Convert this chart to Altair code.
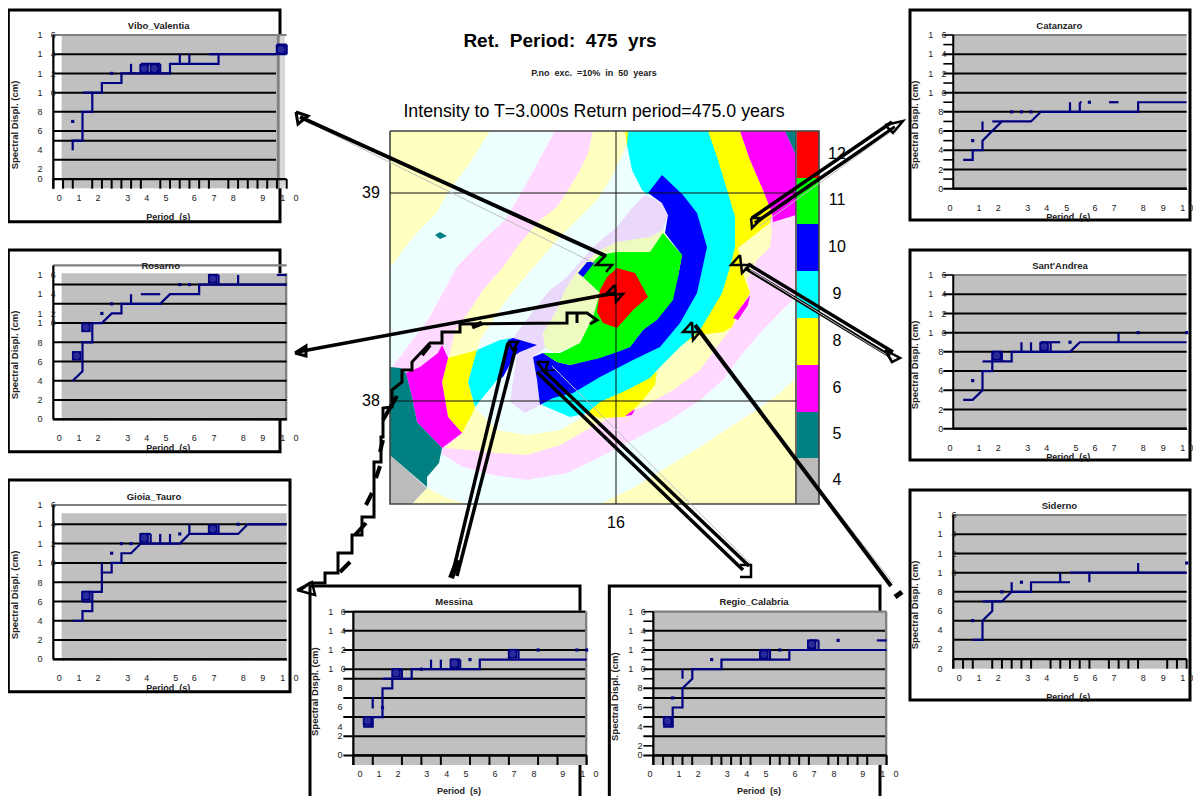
import altair as alt

FONT = "Liberation Sans"
NAVY = "#000080"

# ---------- map of intensity classes (polygons, back to front) ----------
PALE_Y, PALE_C, PINK, LAV, PALE_G = "#FFFFC0", "#EEFFFF", "#FFD9FF", "#EAD9FA", "#EEFBC0"
MAP_POLYS = [
 (PALE_Y, [(390,131),(796,131),(796,504),(390,504)]),
 (PALE_C, [(490,131),(796,131),(796,378),(780,393),(757,410),(733,425),(700,447),(667,467),(633,488),(600,504),(467,504),(447,498),(427,488),(400,470),(390,400),(390,266),(392,265),(413,237),(437,212),(448,192),(470,163)]),
 (PINK, [(555,131),(796,131),(796,297),(782,310),(763,330),(743,353),(723,380),(700,400),(667,422),(633,440),(600,457),(567,473),(527,480),(493,475),(463,467),(440,453),(428,440),(390,420),(390,367),(392,367),(403,353),(420,330),(428,320),(435,307),(457,267),(480,243),(505,220),(523,190),(543,153)]),
 (PALE_Y, [(593,131),(588,153),(580,170),(570,187),(557,207),(540,220),(520,243),(503,267),(483,290),(470,310),(455,330),(450,353),(448,358),(462,433),(445,448),(470,450),(497,453),(527,455),(560,445),(590,428),(610,418),(643,407),(673,390),(700,370),(717,347),(732,327),(745,307),(750,293),(747,280),(757,260),(770,247),(772,230),(770,223),(757,233),(738,248),(708,150),(708,131)]),
 (PALE_C, [(627,145),(610,180),(597,200),(577,220),(557,240),(540,260),(520,283),(505,302),(493,320),(480,340),(470,380),(475,408),(497,430),(527,435),(560,430),(583,417),(610,400),(700,250),(690,150)]),
 (LAV, [(534,310),(550,290),(567,277),(593,247),(617,227),(633,207),(645,195),(662,203),(668,215),(663,230),(650,237),(617,243),(597,255),(580,267),(565,290),(557,310),(543,333),(545,348),(533,357),(537,380),(540,405),(525,413),(510,402),(517,353),(513,338)]),
 (PALE_G, [(600,250),(617,242),(650,237),(663,230),(668,233),(650,260),(620,300),(590,340),(555,353),(545,348),(543,333),(557,310),(565,290),(580,267)]),
 ("#FFFF00", [(625,131),(631,131),(627,146)]),
 ("#FFFF00", [(708,131),(740,131),(750,160),(763,190),(772,213),(770,223),(757,233),(738,248),(745,280),(750,293),(737,313),(732,327),(723,332),(700,335),(680,345),(650,340),(680,250)]),
 ("#FF00FF", [(750,295),(748,305),(738,320),(733,318)]),
 ("#FFFF00", [(657,372),(655,385),(643,400),(633,410),(625,417),(600,418),(587,413),(600,400),(640,380)]),
 ("#FF00FF", [(625,416),(635,409),(632,415)]),
 ("#FFFF00", [(448,358),(478,350),(468,382),(475,408),(462,433),(448,417),(442,382)]),
 ("#00FFFF", [(628,131),(708,131),(717,157),(728,193),(735,217),(735,247),(730,267),(722,293),(712,310),(700,330),(680,347),(660,367),(650,378),(627,390),(600,402),(587,413),(570,417),(542,405),(560,380),(650,330),(690,250),(662,175),(648,195),(642,190),(632,170),(627,145)]),
 ("#00FFFF", [(468,382),(477,350),(500,340),(513,338),(512,343),(497,380),(475,407)]),
 ("#0000FF", [(662,175),(683,195),(697,213),(707,247),(697,293),(680,323),(660,347),(633,360),(600,377),(573,393),(553,398),(540,405),(537,380),(533,357),(543,353),(557,362),(570,365),(597,358),(617,352),(630,347),(643,330),(663,310),(678,277),(682,255),(665,233),(668,215),(662,203),(648,193)]),
 ("#00FF00", [(583,277),(593,262),(600,255),(617,252),(650,252),(663,233),(682,255),(678,277),(673,300),(657,320),(643,330),(630,347),(617,352),(600,358),(570,365),(557,362),(543,353),(560,353),(580,343),(593,317),(600,293)]),
 ("#FF0000", [(617,268),(635,273),(648,297),(633,310),(617,328),(603,323),(597,312),(600,290),(607,277)]),
 ("#0000FF", [(508,340),(513,338),(537,345),(520,352),(515,355),(503,377),(497,380)]),
 ("#0000FF", [(578,273),(587,262),(595,262),(583,277)]),
 ("#FF00FF", [(740,131),(785,131),(796,155),(796,215),(773,222),(772,213),(763,190),(750,160)]),
 ("#008080", [(785,131),(796,131),(796,155)]),
 ("#FF00FF", [(406,373),(420,367),(438,353),(442,345),(448,358),(442,382),(448,417),(462,433),(442,448),(417,422),(412,397)]),
 ("#008080", [(390,367),(400,368),(406,373),(412,397),(417,422),(442,448),(439,463),(427,477),(427,487),(392,457),(390,456)]),
 ("#BBBBBB", [(390,456),(392,457),(427,488),(412,504),(390,504)]),
 ("#008080", [(435,235),(440,232),(447,236),(440,239)]),
]
LEGEND_CLASSES = ["12", "11", "10", "9", "8", "6", "5", "4"]
LEGEND_COLORS = ["#FF0000", "#00FF00", "#0000FF", "#00FFFF", "#FFFF00", "#FF00FF", "#008080", "#BBBBBB"]
LEGEND_EDGES = [131, 178, 224, 271, 318, 365, 412, 458, 504]
LAT_LINES = [("39", 193), ("38", 401)]
LON_LINES = [("16", 616)]

# ---------- spectra: period (s), displacement (cm) ----------
vibo_t = [.83,.83,1.25,1.25,1.67,1.67,2.08,2.08,2.92,2.92,5,5,7.08,7.08,10]
vibo_v = [4,5,5,8,8,10,10,11,11,12,12,13,13,14,14]
vibo_seg = [(1.25,10,1.67,10),(3.33,12,3.33,13),(3.75,13,4.58,13),(4.58,12,4.58,13),(5.42,13,5.42,14),(5.83,13,5.83,14),(6.67,14,7.08,14),(9.58,14,9.58,15),(9.58,15,10,15),(10,14,10,15)]
vibo_dot = [(.83,7),(2.5,12)]
vibo_mark = [(3.89,12.5),(4.33,12.5),(9.76,14.5)]

rosa_t = [.83,1.25,1.25,1.67,1.67,2.08,2.5,2.92,2.92,4.58,5,6.25,6.25,10]
rosa_v = [4,5,8,8,10,10,11,11,12,12,13,13,14,14]
rosa_seg = [(3.33,12,3.33,13),(3.75,13,4.58,13),(7.92,14,7.92,15),(9.58,15,10,15),(6.67,15,7.08,15),(7.08,14,7.08,15)]
rosa_dot = [(2.08,11),(2.5,12),(5.42,14),(5.83,14)]
rosa_mark = [(1.0,6.6),(1.4,9.55),(6.83,14.6)]

gioia_t = [.83,1.25,1.25,1.67,1.67,2.08,2.08,2.5,2.5,2.92,2.92,3.33,3.75,5.42,5.83,7.92,8.33,10]
gioia_v = [4,4,5,5,7,7,9,9,10,10,11,11,12,12,13,13,14,14]
gioia_seg = [(2.08,9,2.08,10),(1.25,7,1.67,7),(1.25,6,1.67,6),(1.25,6,1.25,7),(3.75,12,3.75,13),(4.17,12,4.17,13),(4.58,12,4.58,13),(5,12,5,13),(5.83,13,5.83,14),(6.67,13,6.67,14),(7.08,13,7.08,14),(3.75,13,4.17,13)]
gioia_dot = [(2.5,11),(2.92,12),(3.33,12),(5.42,13),(7.92,14)]
gioia_mark = [(1.4,6.6),(3.89,12.6),(6.83,13.5)]

mess_t = [.42,.83,.83,1.25,1.25,1.67,1.67,2.5,2.5,5.42,5.42,10]
mess_v = [4,4,5,5,8,8,9,9,10,10,11,11]
mess_seg = [(1.25,9,1.67,9),(.83,5.9,.83,7.1),(3.33,10,3.33,11),(3.75,10,3.75,11),(4.58,10,4.58,11),(4.17,11,4.58,11),(2.08,9,2.08,10),(2.08,10,1.67,10),(6.67,12,7.08,12),(7.08,11,7.08,12),(6.67,11,6.67,12)]
mess_dot = [(1.25,6),(2.92,10),(5,11),(7.92,12),(9.58,12),(10,12)]
mess_mark = [(.61,4.6),(1.83,9.6),(4.33,10.6),(6.83,11.6)]

regio_t = [.42,.83,.83,1.25,1.25,1.67,1.67,2.92,2.92,5.83,5.83,10]
regio_v = [4,4,6,6,8,9,10,10,11,11,12,12]
regio_seg = [(1.25,9,1.25,10),(4.58,11,4.58,12),(5,11,5,12),(4.58,12,5,12),(7.08,12,7.08,13),(6.67,13,7.08,13),(6.67,12,6.67,13),(9.58,13,10,13)]
regio_dot = [(.83,7),(2.5,11),(5.42,12),(7.92,13)]
regio_mark = [(.61,4.6),(4.74,11.55),(6.79,12.6)]

cat_t = [.42,.83,.83,1.25,1.25,2.08,3.33,3.75,7.92,7.92,10]
cat_v = [3,3,4,4,5,7,7,8,8,9,9]
cat_seg = [(1.25,6,1.25,7),(1.67,7,2.08,7),(5,8,5,9),(5.42,8,5.42,9),(5.42,9,5.5,9),(6.67,9,7.08,9)]
cat_dot = [(.83,5),(2.5,8),(2.92,8),(3.33,8),(5.83,9)]
cat_mark = []

sant_t = [.42,.83,1.25,1.25,1.67,1.67,2.5,2.5,5,5.42,10]
sant_v = [3,3,4,6,6,7,7,8,8,9,9]
sant_seg = [(1.25,7,1.67,7),(1.67,7,1.67,8),(1.67,8,2.08,8),(2.08,7,2.08,8),(2.92,8,2.92,9),(3.33,8,3.33,9),(3.75,8,3.75,9),(4.17,8,4.17,9),(3.75,9,4.58,9),(7.08,9,7.08,10)]
sant_dot = [(.83,5),(5,9),(7.92,10),(10,10)]
sant_mark = [(1.86,7.6),(3.89,8.55)]

sid_t = [.83,1.25,1.25,1.67,1.67,2.08,2.5,3.33,3.33,5]
sid_v = [3,3,5,6,7,7,8,8,9,9]
sid_seg = [(1.25,7,1.67,7),(2.5,8,2.5,9),(4.58,9,4.58,10),(5,10,10,10),(5.83,9,5.83,10),(7.92,10,7.92,11)]
sid_dot = [(.83,5),(2.08,8),(2.92,9),(10,11)]
sid_mark = []

X_TEXT = ["0","1","2","3","4","5","6","7","8","9","1","0"]
Y_TEXT = [16,14,12,10,8,6,4,2,0]
TICK_STEP = 10 / 24
ALL_K = list(range(25))

# layout of one panel, in 1/3-pixel units from the panel's own origin
PANELS = [
 dict(name="Vibo_Valentia", ox=0, oy=0, frame=(25,30,840,665), gray=(185,103,830,565), strip=(830,838), light=(838,855), y0=566, y16=105,
      grid=[14,12,10,8,6,5,3,1], gl=160, gr=828, base=1, ticks=[0,1,2,4,5,6,7,8,9,11,12,13,14,15,16,18,19,20,21,22,23,24],
      yt=(120,160,120), yz=[105,163,221,278,336,394,451,508,538], xz=[178,237,294,383,440,498,583,642,700,788,848,888], xy=595, py=650, ty=78, tx=476, sy=375, px=505,
      t=vibo_t, v=vibo_v, seg=vibo_seg, dot=vibo_dot, mark=vibo_mark, extra=[]),
 dict(name="Rosarno", ox=0, oy=240, frame=(25,30,840,635), gray=(185,100,855,538), strip=(855,862), light=None, y0=538, y16=76,
      grid=[14,12,10,8,6,4,2,0], gl=160, gr=860, base=0, ticks=[], yt=(120,160,120), yz=[105,163,221,250,308,365,423,481,538],
      xz=[178,237,294,383,440,498,583,642,730,788,848,888], xy=595, py=625, ty=78, tx=482, sy=345, px=505,
      t=rosa_t, v=rosa_v, seg=rosa_seg, dot=rosa_dot, mark=rosa_mark, extra=[]),
 dict(name="Gioia_Tauro", ox=0, oy=470, frame=(25,30,870,665), gray=(185,130,860,568), strip=None, light=None, y0=568, y16=105,
      grid=[14,12,10,8,6,4,2,0], gl=160, gr=860, base=0, ticks=[], yt=(120,160,120), yz=[105,163,223,280,338,396,453,511,568],
      xz=[178,237,294,383,440,527,583,642,730,788,848,888], xy=625, py=653, ty=80, tx=462, sy=375, px=505,
      t=gioia_t, v=gioia_v, seg=gioia_seg, dot=gioia_dot, mark=gioia_mark, extra=[]),
 dict(name="Messina", ox=300, oy=580, frame=(30,18,840,680), gray=(160,95,855,555), strip=(855,862), light=None, y0=555, y16=95,
      grid=[16,14,12,10,9,7,5,3,1], gl=130, gr=855, base=1, ticks=[0,2,5,7,9,12,14,16,19,21,24], yt=(92,130,120), yz=[95,152,210,267,325,382,440,468,526],
      xz=[180,237,294,380,440,498,585,642,702,788,848,888], xy=583, py=632, ty=65, tx=462, sy=335, px=477,
      t=mess_t, v=mess_v, seg=mess_seg, dot=mess_dot, mark=mess_mark, extra=[]),
 dict(name="Regio_Calabria", ox=600, oy=580, frame=(28,18,840,680), gray=(160,95,855,555), strip=(855,862), light=None, y0=555, y16=95,
      grid=[14,12,10,8,7,5,3,1], gl=130, gr=855, base=1, ticks=[0,1,2,3,4,6,7,8,9,10,12,13,14,15,16,18,19,20,21,22,24], yt=(92,130,120), yz=[95,152,210,267,325,382,440,497,526],
      xz=[150,237,295,382,440,498,585,642,702,788,848,888], xy=583, py=632, ty=65, tx=462, sy=350, px=477,
      t=regio_t, v=regio_v, seg=regio_seg, dot=regio_dot, mark=regio_mark, extra=[16,15,13,11,9,6,4,2]),
 dict(name="Catanzaro", ox=900, oy=0, frame=(30,30,870,660), gray=(165,105,860,566), strip=None, light=None, y0=566, y16=105,
      grid=[14,12,10,8,6,4,2,0], gl=130, gr=860, base=0, ticks=[], yt=(92,132,122), yz=[105,163,221,278,336,394,451,509,566],
      xz=[150,237,295,383,440,500,585,642,730,790,848,873], xy=625, py=650, ty=78, tx=478, sy=375, px=505,
      t=cat_t, v=cat_v, seg=cat_seg, dot=cat_dot, mark=cat_mark, extra=[16,15,13,11,9,7,5,3,1]),
 dict(name="Sant'Andrea", ox=900, oy=240, frame=(30,30,870,660), gray=(165,105,860,566), strip=None, light=None, y0=566, y16=105,
      grid=[14,12,10,8,6,4,2,0], gl=130, gr=860, base=0, ticks=[], yt=(92,132,122), yz=[105,163,221,278,336,394,451,509,566],
      xz=[150,237,295,383,440,528,585,642,730,790,848,873], xy=625, py=650, ty=78, tx=480, sy=375, px=505,
      t=sant_t, v=sant_v, seg=sant_seg, dot=sant_dot, mark=sant_mark, extra=[16]),
 dict(name="Siderno", ox=900, oy=480, frame=(30,30,870,660), gray=(165,105,860,566), strip=None, light=None, y0=566, y16=105,
      grid=[14,12,10,8,7,5,3,1], gl=160, gr=860, base=1, ticks=[0,1,2,4,5,6,7,8,10,11,12,13,14,16,17,18,19,22,23,24], yt=(120,162,120), yz=[105,163,221,278,336,394,451,508,566],
      xz=[178,237,295,383,440,528,585,642,730,790,848,873], xy=595, py=650, ty=78, tx=478, sy=375, px=505,
      t=sid_t, v=sid_v, seg=sid_seg, dot=sid_dot, mark=sid_mark, extra=[]),
]

# leader arrows: (width, colour, polyline)
BLACK, SHADOW = "#000000", "#BDBDBD"
ARROWS = [
 (1, SHADOW, [(302,119),(600,266)]),
 (4, BLACK, [(300,117),(606,256)]),
 (2.5, BLACK, [(606,255),(596,265),(612,265),(606,272)]),
 (3, BLACK, [(296,112),(308,116),(298,124),(296,112)]),
 (3.5, BLACK, [(297,352),(615,293)]),
 (2.5, BLACK, [(615,285),(605,295),(623,294),(616,302),(615,285)]),
 (3, BLACK, [(295,353),(306,346),(306,356),(295,353)]),
 (3, BLACK, [(300,590),(310,583),(325,583),(325,573),(338,573),(338,553),(352,553),(352,535),(362,535),(362,517),(374,517),(374,462),(381,462),(381,437),(383,437),(383,408),(392,407),(392,390),(402,382),(402,370),(412,370),(412,362),(430,343),(442,343),(442,332),(460,332),(460,324),(567,323),(567,313),(577,313),(577,323),(577,313),(587,313),(597,320),(590,324)]),
 (2.5, BLACK, [(297,590),(312,582),(315,595),(297,590)]),
 (4, BLACK, [(383,420),(397,396)]),
 (5, BLACK, [(472,327),(482,323)]),
 (4, BLACK, [(380,452),(383,440)]),
 (4, BLACK, [(376,478),(380,466)]),
 (4, BLACK, [(366,505),(372,493)]),
 (4, BLACK, [(355,535),(366,523)]),
 (4, BLACK, [(340,572),(350,562)]),
 (4, BLACK, [(422,355),(430,345)]),
 (3.5, BLACK, [(452,576),(508,343)]),
 (3.5, BLACK, [(457,576),(516,347)]),
 (2.5, BLACK, [(508,342),(518,342),(513,350),(508,342)]),
 (6, BLACK, [(451,578),(458,560)]),
 (3.5, BLACK, [(537,372),(743,570)]),
 (3.5, BLACK, [(543,370),(749,566)]),
 (1, SHADOW, [(552,366),(752,565)]),
 (2.5, BLACK, [(537,362),(548,362),(545,372),(537,362)]),
 (1.5, BLACK, [(540,371),(555,370)]),
 (2.5, BLACK, [(740,565),(751,565),(751,577),(740,577)]),
 (1, SHADOW, [(700,335),(893,583)]),
 (4, BLACK, [(695,325),(891,586)]),
 (2.5, BLACK, [(692,322),(683,332),(700,332),(693,340),(692,322)]),
 (5, BLACK, [(895,597),(902,592)]),
 (3.5, BLACK, [(748,264),(893,352)]),
 (3.5, BLACK, [(745,268),(890,356)]),
 (1, SHADOW, [(750,270),(895,360)]),
 (2.5, BLACK, [(740,255),(731,265),(750,265),(742,273),(740,255)]),
 (2.5, BLACK, [(885,350),(900,358),(892,362),(885,350)]),
 (3.5, BLACK, [(752,218),(892,122)]),
 (3.5, BLACK, [(755,223),(895,127)]),
 (1, SHADOW, [(760,226),(900,125)]),
 (2.5, BLACK, [(751,218),(762,218),(752,228),(751,218)]),
 (2.5, BLACK, [(885,125),(903,121),(893,133),(885,125)]),
]

TEXTS = [
 ("Ret.\u00a0\u00a0Period:\u00a0\u00a0475\u00a0\u00a0yrs", 560, 41, 19, "bold", "black", "center", 0),
 ("P.no\u00a0\u00a0exc.\u00a0\u00a0=10%\u00a0\u00a0in\u00a0\u00a050\u00a0\u00a0years", 594, 73, 9, "bold", "#222222", "center", 0),
 ("Intensity to T=3.000s Return period=475.0 years", 594, 112, 17.8, "normal", "black", "center", 0),
]

# ---------- shared helpers ----------
W, H = 1185, 788
PX = alt.Scale(domain=[8, 8 + W], range=[0, W], nice=False, zero=False)
PY = alt.Scale(domain=[8, 8 + H], range=[0, H], nice=False, zero=False)

layers = []

# map polygons
features = [
    {"type": "Feature", "properties": {"c": c},
     "geometry": {"type": "Polygon", "coordinates": [[list(p) for p in pts] + [list(pts[0])]]}}
    for c, pts in MAP_POLYS
]
layers.append(
    alt.Chart(alt.InlineData(values={"type": "FeatureCollection", "features": features},
                             format=alt.DataFormat(property="features", type="json")))
    .mark_geoshape(strokeWidth=0)
    .encode(color=alt.Color("properties.c:N", scale=None))
    .project(type="identity", scale=1, translate=[-8, -8])
)


def rects(rows, **mk):
    return alt.Chart(alt.Data(values=rows)).mark_rect(**mk).encode(
        x=alt.X("x:Q", scale=PX, axis=None), x2="x2:Q",
        y=alt.Y("y:Q", scale=PY, axis=None), y2="y2:Q",
        color=alt.Color("c:N", scale=None))


def polylines(rows, width, color):
    return alt.Chart(alt.Data(values=rows)).mark_line(strokeWidth=width, color=color, strokeJoin="miter").encode(
        x=alt.X("x:Q", scale=PX, axis=None), y=alt.Y("y:Q", scale=PY, axis=None),
        detail="g:N", order=alt.Order("i:Q"))


# legend bar
layers.append(rects([
    {"x": 797, "x2": 819, "y": LEGEND_EDGES[i], "y2": LEGEND_EDGES[i + 1], "c": LEGEND_COLORS[i]}
    for i in range(8)]))

# map frame and graticule
frame_rows = []
for g, pts in enumerate([[(390, 131), (819, 131), (819, 504), (390, 504), (390, 131)], [(796, 131), (796, 504)]]):
    frame_rows += [{"x": x, "y": y, "g": g, "i": i} for i, (x, y) in enumerate(pts)]
layers.append(polylines(frame_rows, 1.6, "#444444"))
grat = []
for g, (_, y) in enumerate(LAT_LINES):
    grat += [{"x": 390, "y": y, "g": f"a{g}", "i": 0}, {"x": 796, "y": y, "g": f"a{g}", "i": 1}]
for g, (_, x) in enumerate(LON_LINES):
    grat += [{"x": x, "y": 131, "g": f"o{g}", "i": 0}, {"x": x, "y": 504, "g": f"o{g}", "i": 1}]
layers.append(polylines(grat, 1, "#111111"))

# spectrum panels
for p in PANELS:
    ox, oy = p["ox"], p["oy"]
    fx = lambda z: ox + z / 3
    fy = lambda z: oy + z / 3
    l, t, r, b = p["frame"]
    layers.append(alt.Chart(alt.Data(values=[{"x": fx(l), "x2": fx(r), "y": fy(t), "y2": fy(b)}]))
                  .mark_rect(fill="white", stroke="black", strokeWidth=3)
                  .encode(x=alt.X("x:Q", scale=PX, axis=None), x2="x2:Q",
                          y=alt.Y("y:Q", scale=PY, axis=None), y2="y2:Q"))
    gl, gt, gr_, gb = p["gray"]
    rows = [{"x": fx(gl), "x2": fx(gr_), "y": fy(gt), "y2": fy(gb), "c": "#C0C0C0"}]
    if p["strip"]:
        rows.append({"x": fx(p["strip"][0]), "x2": fx(p["strip"][1]), "y": fy(gt), "y2": fy(gb), "c": "#808080"})
    if p["light"]:
        rows.append({"x": fx(p["light"][0]), "x2": fx(p["light"][1]), "y": fy(gt), "y2": fy(gb), "c": "#D8D8D8"})
    layers.append(rects(rows))

    x_scale = alt.Scale(domain=[0, 10], range=[fx(160) - 8, fx(860) - 8], nice=False, zero=False)
    y_scale = alt.Scale(domain=[0, 16], range=[fy(p["y0"]) - 8, fy(p["y16"]) - 8], nice=False, zero=False)
    X = alt.X("t:Q", scale=x_scale, axis=None)
    Y = alt.Y("v:Q", scale=y_scale, axis=None)
    T_L = (p["gl"] - 160) / 70
    T_R = (p["gr"] - 160) / 70

    # top band
    layers.append(alt.Chart(alt.Data(values=[{"t": 0, "t2": 10, "v": 16}])).mark_rule(color="#808080", strokeWidth=2.2)
                  .encode(x=X, x2="t2:Q", y=Y))
    # gridlines
    layers.append(alt.Chart(alt.Data(values=[{"t": T_L, "t2": T_R, "v": v} for v in p["grid"]]))
                  .mark_rule(color="black", strokeWidth=2).encode(x=X, x2="t2:Q", y=Y))
    # left axis
    layers.append(alt.Chart(alt.Data(values=[{"t": 0, "v": 0 if not p["ticks"] else p["base"] - 1, "v2": 16}]))
                  .mark_rule(color="black", strokeWidth=2.2).encode(x=X, y=Y, y2="v2:Q"))
    # x axis line and ticks
    base = p["base"]
    layers.append(alt.Chart(alt.Data(values=[{"t": 0, "t2": 10, "v": base}]))
                  .mark_rule(color="black", strokeWidth=2.2).encode(x=X, x2="t2:Q", y=Y))
    if p["ticks"]:
        layers.append(alt.Chart(alt.Data(values=[{"t": k * TICK_STEP, "v": base, "v2": 0} for k in p["ticks"]]))
                      .mark_rule(color="black", strokeWidth=2).encode(x=X, y=Y, y2="v2:Q"))
    else:
        layers.append(alt.Chart(alt.Data(values=[{"t": k * TICK_STEP, "v": 0, "v2": -0.1} for k in ALL_K]))
                      .mark_rule(color="black", strokeWidth=1).encode(x=X, y=Y, y2="v2:Q"))
    if p["extra"]:
        layers.append(alt.Chart(alt.Data(values=[{"t": T_L, "t2": 0, "v": v} for v in p["extra"]]))
                      .mark_rule(color="black", strokeWidth=1.6).encode(x=X, x2="t2:Q", y=Y))
    # step curve
    layers.append(alt.Chart(alt.Data(values=[{"t": a, "v": b_, "i": i} for i, (a, b_) in enumerate(zip(p["t"], p["v"]))]))
                  .mark_line(color=NAVY, strokeWidth=2.2, strokeJoin="miter")
                  .encode(x=X, y=Y, order=alt.Order("i:Q")))
    # extra fragments
    layers.append(alt.Chart(alt.Data(values=[{"t": a, "t2": c, "v": b_, "v2": d} for a, b_, c, d in p["seg"]]))
                  .mark_rule(color=NAVY, strokeWidth=2.2).encode(x=X, x2="t2:Q", y=Y, y2="v2:Q"))
    layers.append(alt.Chart(alt.Data(values=[{"t": a, "v": b_} for a, b_ in p["dot"]]))
                  .mark_square(color=NAVY, size=10, opacity=1).encode(x=X, y=Y))
    if p["mark"]:
        layers.append(alt.Chart(alt.Data(values=[{"t": a, "v": b_} for a, b_ in p["mark"]]))
                      .mark_square(color=NAVY, size=90, opacity=1).encode(x=X, y=Y))
        layers.append(alt.Chart(alt.Data(values=[{"t": a, "v": b_} for a, b_ in p["mark"]]))
                      .mark_point(color="#2A2A9A", fill="#2A2A9A", size=22, opacity=1).encode(x=X, y=Y))

# leader arrows
for g, (w, col, pts) in enumerate(ARROWS):
    layers.append(polylines([{"x": x, "y": y, "g": g, "i": i} for i, (x, y) in enumerate(pts)], w, col))

# all text
rows = []
for s, x, y, size, weight, col, align, angle in TEXTS:
    rows.append(dict(s=s, x=x, y=y, size=size, w=weight, c=col, a=angle))
for lab, y in LAT_LINES:
    rows.append(dict(s=lab, x=371, y=y, size=16, w="normal", c="black", a=0))
for lab, x in LON_LINES:
    rows.append(dict(s=lab, x=x, y=523, size=16, w="normal", c="black", a=0))
for lab, top, bot in zip(LEGEND_CLASSES, LEGEND_EDGES[:-1], LEGEND_EDGES[1:]):
    rows.append(dict(s=lab, x=837, y=(top + bot) / 2 - 1, size=16, w="normal", c="black", a=0))
for p in PANELS:
    ox, oy = p["ox"], p["oy"]
    fx = lambda z: ox + z / 3
    fy = lambda z: oy + z / 3
    rows.append(dict(s=p["name"], x=fx(p["tx"]), y=fy(p["ty"]), size=9.5, w="bold", c="#222222", a=0))
    rows.append(dict(s="Period\u00a0\u00a0(s)", x=fx(p["px"]), y=fy(p["py"]), size=9, w="bold", c="#222222", a=0))
    rows.append(dict(s="Spectral Displ. (cm)", x=fx(45), y=fy(p["sy"]), size=9.5, w="bold", c="#222222", a=270))
    for lab, z in zip(X_TEXT, p["xz"]):
        rows.append(dict(s=lab, x=fx(z), y=fy(p["xy"]), size=9, w="normal", c="#222222", a=0))
    tens, units, single = p["yt"]
    for val, z in zip(Y_TEXT, p["yz"]):
        if val >= 10:
            rows.append(dict(s="1", x=fx(tens), y=fy(z), size=9, w="normal", c="#222222", a=0))
            rows.append(dict(s=str(val - 10), x=fx(units), y=fy(z), size=9, w="normal", c="#222222", a=0))
        else:
            rows.append(dict(s=str(val), x=fx(single), y=fy(z), size=9, w="normal", c="#222222", a=0))

for (weight, angle) in sorted({(r["w"], r["a"]) for r in rows}):
    sub = [r for r in rows if r["w"] == weight and r["a"] == angle]
    layers.append(alt.Chart(alt.Data(values=sub))
                  .mark_text(font=FONT, fontWeight=weight, angle=angle, align="center", baseline="middle")
                  .encode(x=alt.X("x:Q", scale=PX, axis=None), y=alt.Y("y:Q", scale=PY, axis=None),
                          text="s:N", size=alt.Size("size:Q", scale=None),
                          color=alt.Color("c:N", scale=None)))

chart = (
    alt.layer(*layers)
    .resolve_scale(x="independent", y="independent", color="independent", size="independent")
    .properties(width=W, height=H, padding=0, background="white",
                autosize=alt.AutoSizeParams(type="none"))
    .configure_view(stroke=None)
)
chart.save("out.html", embed_options={"renderer": "svg", "actions": False})
